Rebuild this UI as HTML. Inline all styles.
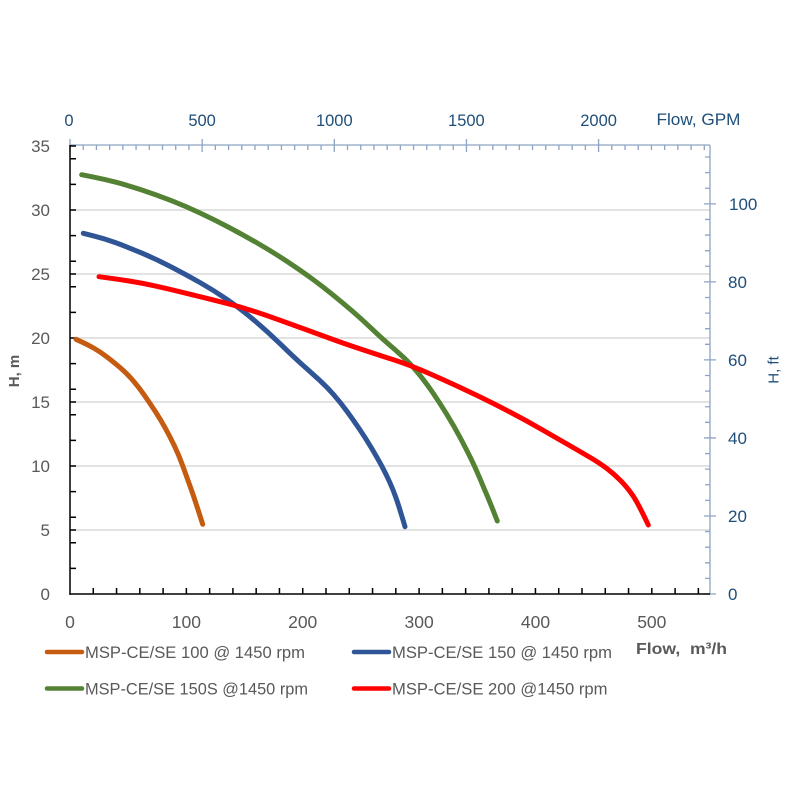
<!DOCTYPE html>
<html><head><meta charset="utf-8"><style>
html,body{margin:0;padding:0;background:#fff;}
svg{display:block;}
text{font-family:"Liberation Sans",sans-serif;}
</style></head><body>
<svg width="800" height="800" viewBox="0 0 800 800" xmlns="http://www.w3.org/2000/svg">
<rect width="800" height="800" fill="#fff"/>
<!-- gridlines -->
<g stroke="#d9d9d9" stroke-width="1.5">
<line x1="70" y1="530" x2="710" y2="530"/>
<line x1="70" y1="466" x2="710" y2="466"/>
<line x1="70" y1="402" x2="710" y2="402"/>
<line x1="70" y1="338" x2="710" y2="338"/>
<line x1="70" y1="274" x2="710" y2="274"/>
<line x1="70" y1="210" x2="710" y2="210"/>
</g>
<!-- top axis -->
<g stroke="#8da4c4" stroke-width="1.3" fill="none">
<line x1="70" y1="145" x2="710" y2="145"/>
<line x1="710" y1="145" x2="710" y2="594"/>
<path d="M83.21 145v5M96.43 145v5M109.64 145v5M122.86 145v5M136.07 145v5M149.29 145v5M162.5 145v5M175.72 145v5M188.93 145v5M215.36 145v5M228.57 145v5M241.79 145v5M255 145v5M268.22 145v5M281.43 145v5M294.65 145v5M307.86 145v5M321.08 145v5M347.5 145v5M360.72 145v5M373.93 145v5M387.15 145v5M400.36 145v5M413.58 145v5M426.79 145v5M440.01 145v5M453.22 145v5M479.65 145v5M492.86 145v5M506.08 145v5M519.29 145v5M532.51 145v5M545.72 145v5M558.94 145v5M572.15 145v5M585.37 145v5M611.79 145v5M625.01 145v5M638.22 145v5M651.44 145v5M664.65 145v5M677.87 145v5M691.08 145v5M704.3 145v5"/>
<path d="M70 139v13M202.15 139v13M334.29 139v13M466.44 139v13M598.58 139v13"/>
<path d="M705 578.39h5M705 562.79h5M705 547.18h5M705 531.58h5M705 500.36h5M705 484.76h5M705 469.15h5M705 453.55h5M705 422.33h5M705 406.73h5M705 391.12h5M705 375.52h5M705 344.3h5M705 328.7h5M705 313.09h5M705 297.48h5M705 266.27h5M705 250.67h5M705 235.06h5M705 219.45h5M705 188.24h5M705 172.64h5M705 157.03h5"/>
<path d="M704 594h12M704 515.97h12M704 437.94h12M704 359.91h12M704 281.88h12M704 203.85h12"/>
</g>
<!-- left & bottom axes -->
<g stroke="#000" stroke-width="1.5" fill="none">
<line x1="70" y1="145" x2="70" y2="594.7"/>
<line x1="69.3" y1="594" x2="710" y2="594"/>
<path d="M70 568.4h6M70 542.8h6M70 517.2h6M70 491.6h6M70 466h6M70 440.4h6M70 414.8h6M70 389.2h6M70 363.6h6M70 338h6M70 312.4h6M70 286.8h6M70 261.2h6M70 235.6h6M70 210h6M70 184.4h6M70 158.8h6M70 530h6M70 402h6M70 274h6M70 146h6"/>
<path d="M93.27 594v-6M116.55 594v-6M139.82 594v-6M163.09 594v-6M186.36 594v-6M209.64 594v-6M232.91 594v-6M256.18 594v-6M279.45 594v-6M302.73 594v-6M326 594v-6M349.27 594v-6M372.55 594v-6M395.82 594v-6M419.09 594v-6M442.36 594v-6M465.64 594v-6M488.91 594v-6M512.18 594v-6M535.45 594v-6M558.73 594v-6M582 594v-6M605.27 594v-6M628.55 594v-6M651.82 594v-6M675.09 594v-6M698.36 594v-6"/>
</g>
<!-- series -->
<g fill="none" stroke-width="5" stroke-linecap="round" stroke-linejoin="round">
<path stroke="#c55a11" d="M76,339.3 L82,342.05 Q88,344.8 94,348.25 Q100,351.7 106.5,356.6 Q113,361.5 119.85,367.4 Q126.7,373.3 132.85,380.4 Q139,387.5 144.5,395.4 Q150,403.3 155.25,411.4 Q160.5,419.5 165.25,428.1 Q170,436.7 174.5,446.1 Q179,455.5 182.85,466.1 Q186.7,476.7 190.85,488.35 Q195,500 202.7,524.3"/>
<path stroke="#2f5597" d="M83.3,233.3 L94.15,236.05 Q105,238.8 115.85,242.75 Q126.7,246.7 141.85,253.1 Q157,259.5 171.85,267.25 Q186.7,275 200.35,282.75 Q214,290.5 227,299.4 Q240,308.3 253.5,319.65 Q267,331 280.15,343.85 Q293.3,356.7 301.65,364.1 Q310,371.5 318.35,379.1 Q326.7,386.7 333.6,394.6 Q340.5,402.5 346.9,411.25 Q353.3,420 359.4,429 Q365.5,438 371.1,447.35 Q376.7,456.7 381.1,464.85 Q385.5,473 389.4,481.5 Q393.3,490 396.4,499 Q399.5,508 405,526.7"/>
<path stroke="#548235" d="M81.7,174.7 L92.85,176.95 Q104,179.2 115.35,182.1 Q126.7,185 141.85,190 Q157,195 171.85,200.85 Q186.7,206.7 200.85,213.35 Q215,220 229.15,227.5 Q243.3,235 257.65,243.25 Q272,251.5 286,260.75 Q300,270 311,278 Q322,286 332.65,294.65 Q343.3,303.3 352.65,311.4 Q362,319.5 371,328.1 Q380,336.7 387.75,343.35 Q395.5,350 402.75,356.65 Q410,363.3 417.75,372.65 Q425.5,382 432.75,392.65 Q440,403.3 447,414.65 Q454,426 460.35,438 Q466.7,450 471.1,459 Q475.5,468 479.4,477.35 Q483.3,486.7 486.9,495.1 Q490.5,503.5 497.3,521"/>
<path stroke="#ff0000" d="M99,276.7 L110,278.2 Q121,279.7 132.15,281.5 Q143.3,283.3 155.65,286.05 Q168,288.8 180.65,291.9 Q193.3,295 204.65,297.8 Q216,300.6 228,303.65 Q240,306.7 253,310.95 Q266,315.2 279.65,320.1 Q293.3,325 305.65,329.5 Q318,334 330.65,338.65 Q343.3,343.3 360.15,348.9 Q377,354.5 393.5,359.75 Q410,365 431,374.25 Q452,383.5 472.65,393.4 Q493.3,403.3 510.15,412.15 Q527,421 543.5,430.5 Q560,440 570,445.75 Q580,451.5 590,457.4 Q600,463.3 607,468.65 Q614,474 620.35,480.35 Q626.7,486.7 632.35,494.85 Q638,503 648.3,525"/>
</g>
<!-- left tick labels -->
<g font-size="17" fill="#595959" text-anchor="end">
<text x="50" y="600">0</text>
<text x="50" y="536">5</text>
<text x="50" y="472">10</text>
<text x="50" y="408">15</text>
<text x="50" y="344">20</text>
<text x="50" y="280">25</text>
<text x="50" y="216">30</text>
<text x="50" y="152">35</text>
</g>
<!-- bottom tick labels -->
<g font-size="17.5" fill="#595959" text-anchor="middle">
<text x="70" y="628">0</text>
<text x="186.4" y="628">100</text>
<text x="302.7" y="628">200</text>
<text x="419.1" y="628">300</text>
<text x="535.5" y="628">400</text>
<text x="651.8" y="628">500</text>
</g>
<!-- top tick labels -->
<g font-size="16.5" fill="#1f4e79" text-anchor="middle">
<text x="69" y="126">0</text>
<text x="202.1" y="126">500</text>
<text x="334.3" y="126">1000</text>
<text x="466.4" y="126">1500</text>
<text x="598.6" y="126">2000</text>
</g>
<text x="656.5" y="125" font-size="16.5" fill="#1f4e79" textLength="84" lengthAdjust="spacingAndGlyphs">Flow, GPM</text>
<!-- right tick labels -->
<g font-size="17" fill="#1f4e79" text-anchor="start">
<text x="728" y="600">0</text>
<text x="728" y="522">20</text>
<text x="728" y="444">40</text>
<text x="728" y="366">60</text>
<text x="728" y="288">80</text>
<text x="729" y="210">100</text>
</g>
<!-- axis titles -->
<text transform="translate(19,371) rotate(-90)" font-size="15" font-weight="bold" fill="#595959" text-anchor="middle">H, m</text>
<text transform="translate(778.5,370) rotate(-90)" font-size="15" fill="#1f4e79" text-anchor="middle">H, ft</text>
<text x="636" y="654" font-size="16" font-weight="bold" fill="#595959" textLength="91" lengthAdjust="spacingAndGlyphs" xml:space="preserve">Flow,  m³/h</text>
<!-- legend -->
<g stroke-width="4.5" stroke-linecap="round">
<line x1="47" y1="652" x2="82" y2="652" stroke="#c55a11"/>
<line x1="354" y1="652" x2="389" y2="652" stroke="#2f5597"/>
<line x1="47" y1="688.5" x2="82" y2="688.5" stroke="#548235"/>
<line x1="354" y1="688.5" x2="389" y2="688.5" stroke="#ff0000"/>
</g>
<g font-size="16.5" fill="#595959">
<text x="85" y="658" textLength="220" lengthAdjust="spacingAndGlyphs">MSP-CE/SE 100 @ 1450 rpm</text>
<text x="392" y="658" textLength="220" lengthAdjust="spacingAndGlyphs">MSP-CE/SE 150 @ 1450 rpm</text>
<text x="85" y="694.5" textLength="223" lengthAdjust="spacingAndGlyphs">MSP-CE/SE 150S @1450 rpm</text>
<text x="392" y="694.5" textLength="215.5" lengthAdjust="spacingAndGlyphs">MSP-CE/SE 200 @1450 rpm</text>
</g>
</svg>
</body></html>
